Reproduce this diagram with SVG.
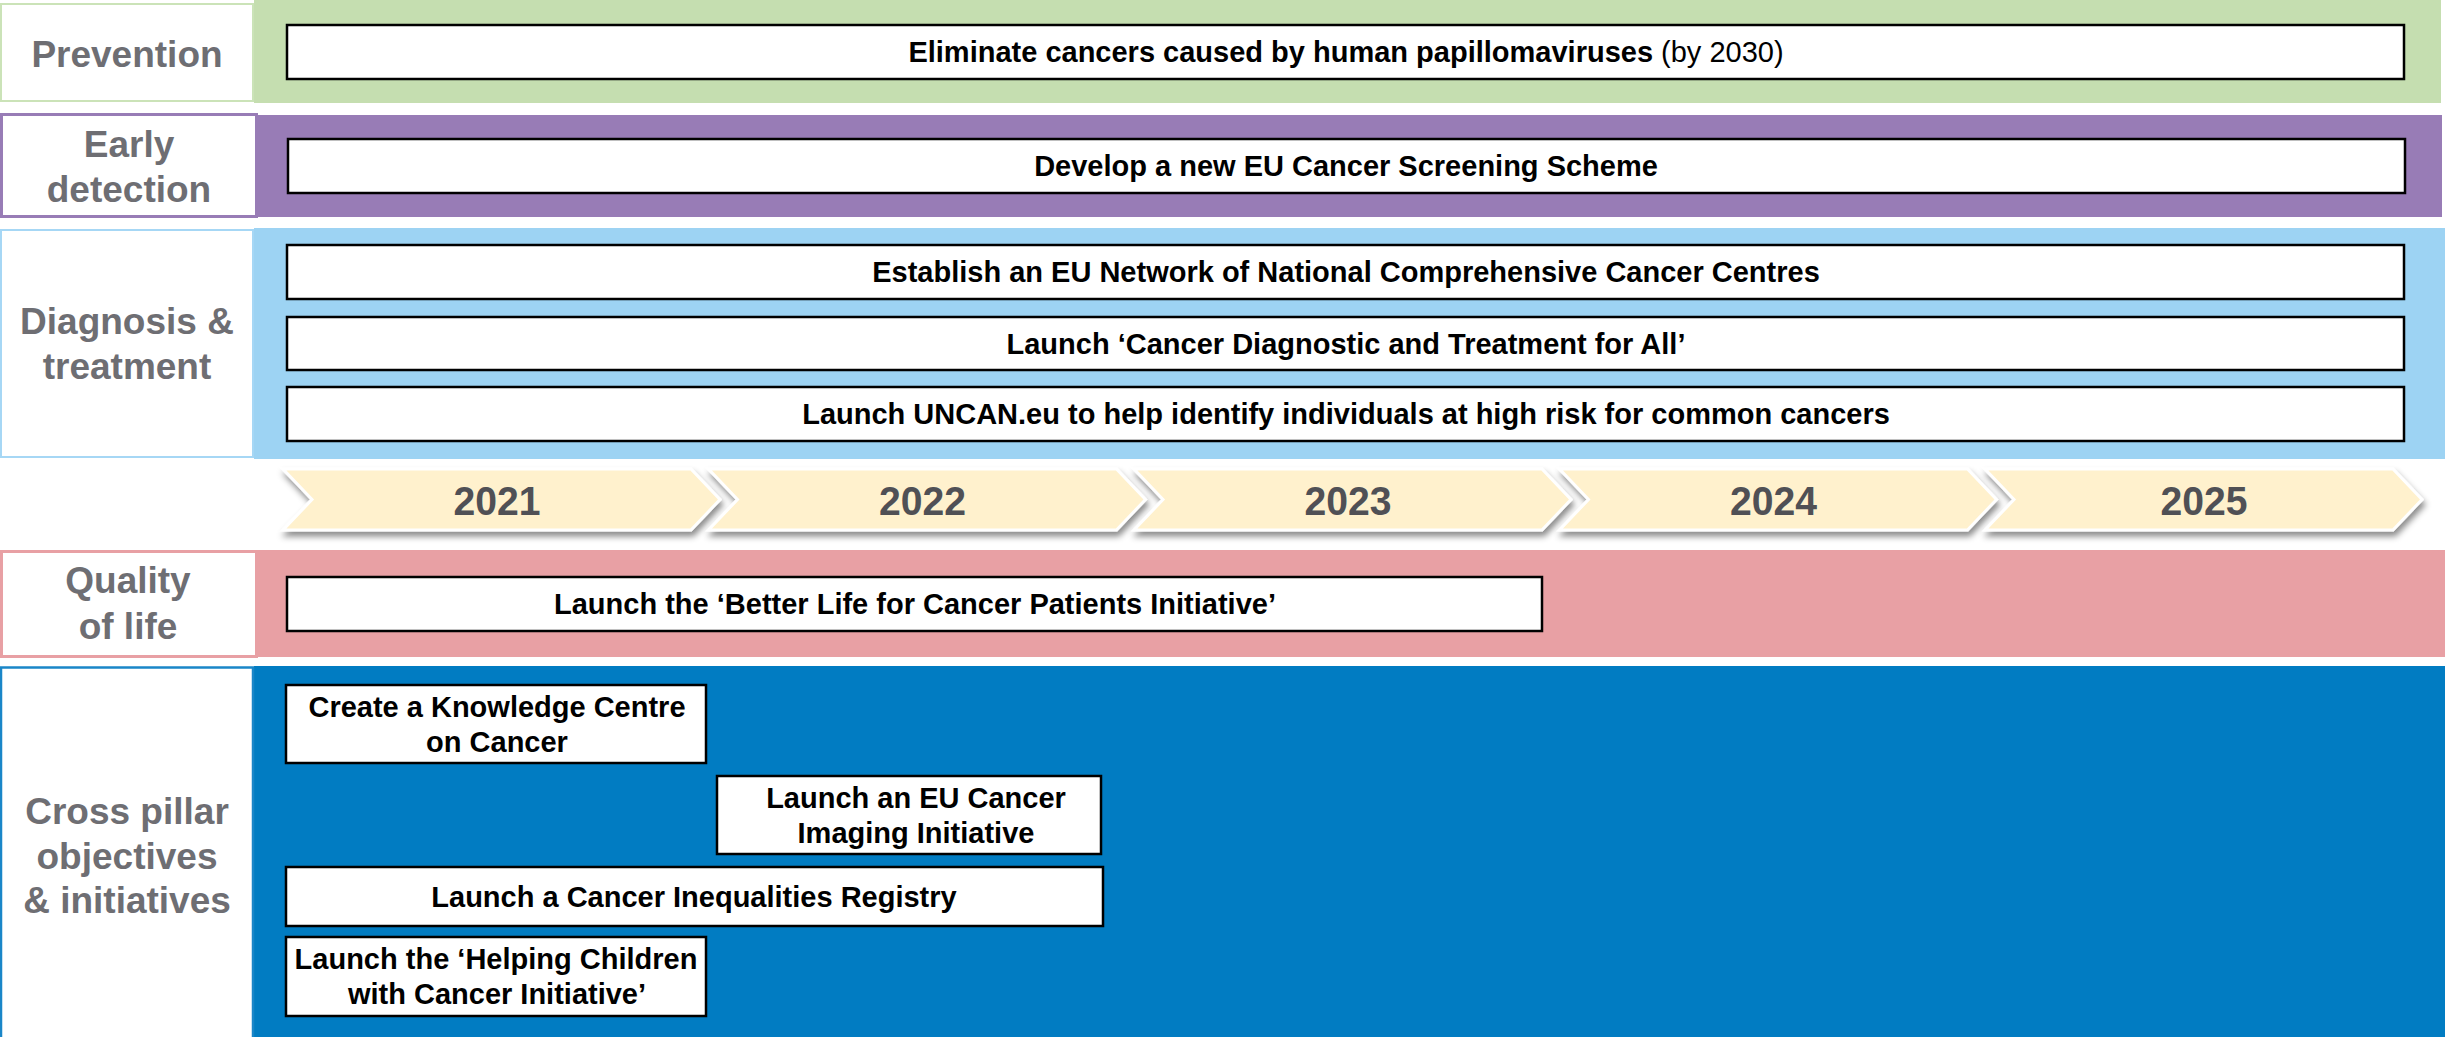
<svg xmlns="http://www.w3.org/2000/svg" width="2445" height="1037" viewBox="0 0 2445 1037">
<defs>
<style>
.lbl{font-family:"Liberation Sans",Arial,sans-serif;font-weight:bold;font-size:37px;fill:#6e6e73;text-anchor:middle}
.box{fill:#fff;stroke:#000;stroke-width:2.5}
.bt{font-family:"Liberation Sans",Arial,sans-serif;font-weight:bold;font-size:29px;fill:#000;text-anchor:middle}
.reg{font-weight:normal}
.chev{fill:#fff1cd;stroke:#fff;stroke-width:3;filter:url(#sh)}
.yr{font-family:"Liberation Sans",Arial,sans-serif;font-weight:bold;font-size:41px;fill:#505055;text-anchor:middle}
</style>
<filter id="sh" x="-5%" y="-30%" width="115%" height="170%">
<feDropShadow dx="2" dy="5" stdDeviation="3" flood-color="#000" flood-opacity="0.45"/>
</filter>
</defs>
<rect width="2445" height="1037" fill="#fff"/>

<!-- Bands -->
<g id="bands">
<rect x="254" y="0" width="2187" height="103" fill="#c5deb0"/>
<rect x="256" y="115" width="2186" height="102" fill="#987cb6"/>
<rect x="254" y="228" width="2191" height="231" fill="#9dd3f3"/>
<rect x="256" y="550" width="2189" height="107" fill="#e8a0a4"/>
<rect x="254" y="666" width="2191" height="371" fill="#017cc2"/>
</g>

<!-- Row labels -->
<g id="label-prevention">
<rect x="1" y="4" width="252" height="97" fill="#fff" stroke="#cbe3b8" stroke-width="2"/>
<text class="lbl" x="127" y="67">Prevention</text>
</g>
<g id="label-early-detection">
<rect x="1.5" y="114.5" width="255" height="102" fill="#fff" stroke="#987cb6" stroke-width="3"/>
<text class="lbl" x="129" y="157">Early</text>
<text class="lbl" x="129" y="202">detection</text>
</g>
<g id="label-diagnosis">
<rect x="1" y="230" width="252" height="227" fill="#fff" stroke="#a6d7f5" stroke-width="2"/>
<text class="lbl" x="127" y="334">Diagnosis &amp;</text>
<text class="lbl" x="127" y="379">treatment</text>
</g>
<g id="label-quality">
<rect x="1.5" y="551.5" width="255" height="105" fill="#fff" stroke="#e8a0a4" stroke-width="3"/>
<text class="lbl" x="128" y="593">Quality</text>
<text class="lbl" x="128" y="639">of life</text>
</g>
<g id="label-cross">
<rect x="1" y="667.5" width="252" height="380" fill="#fff" stroke="#1a86c8" stroke-width="2.5"/>
<text class="lbl" x="127" y="824">Cross pillar</text>
<text class="lbl" x="127" y="869">objectives</text>
<text class="lbl" x="127" y="913">&amp; initiatives</text>
</g>

<!-- Timeline -->
<g id="year-2021">
<path class="chev" d="M283,469 H691 L720,499.5 L691,530 H283 L312,499.5 Z"/>
<text class="yr" x="497" y="515" textLength="87" lengthAdjust="spacingAndGlyphs">2021</text>
</g>
<g id="year-2022">
<path class="chev" d="M708.5,469 H1116.5 L1145.5,499.5 L1116.5,530 H708.5 L737.5,499.5 Z"/>
<text class="yr" x="922.5" y="515" textLength="87" lengthAdjust="spacingAndGlyphs">2022</text>
</g>
<g id="year-2023">
<path class="chev" d="M1134,469 H1542 L1571,499.5 L1542,530 H1134 L1163,499.5 Z"/>
<text class="yr" x="1348" y="515" textLength="87" lengthAdjust="spacingAndGlyphs">2023</text>
</g>
<g id="year-2024">
<path class="chev" d="M1559.5,469 H1967.5 L1996.5,499.5 L1967.5,530 H1559.5 L1588.5,499.5 Z"/>
<text class="yr" x="1773.5" y="515" textLength="87" lengthAdjust="spacingAndGlyphs">2024</text>
</g>
<g id="year-2025">
<path class="chev" d="M1985,469 H2393 L2422,499.5 L2393,530 H1985 L2014,499.5 Z"/>
<text class="yr" x="2204" y="515" textLength="87" lengthAdjust="spacingAndGlyphs">2025</text>
</g>

<!-- Initiative boxes -->
<g id="hpv">
<rect class="box" x="287" y="25" width="2117" height="54"/>
<text class="bt" x="1346" y="62">Eliminate cancers caused by human papillomaviruses<tspan class="reg"> (by 2030)</tspan></text>
</g>
<g id="screening">
<rect class="box" x="288" y="139" width="2117" height="54"/>
<text class="bt" x="1346" y="176">Develop a new EU Cancer Screening Scheme</text>
</g>
<g id="network">
<rect class="box" x="287" y="245" width="2117" height="54"/>
<text class="bt" x="1346" y="282">Establish an EU Network of National Comprehensive Cancer Centres</text>
</g>
<g id="diagnostic-for-all">
<rect class="box" x="287" y="317" width="2117" height="53"/>
<text class="bt" x="1346" y="354">Launch ‘Cancer Diagnostic and Treatment for All’</text>
</g>
<g id="uncan">
<rect class="box" x="287" y="387" width="2117" height="54"/>
<text class="bt" x="1346" y="424">Launch UNCAN.eu to help identify individuals at high risk for common cancers</text>
</g>
<g id="better-life">
<rect class="box" x="287" y="577" width="1255" height="54"/>
<text class="bt" x="915" y="614">Launch the ‘Better Life for Cancer Patients Initiative’</text>
</g>
<g id="knowledge-centre">
<rect class="box" x="286" y="685" width="420" height="78"/>
<text class="bt" x="497" y="717">Create a Knowledge Centre</text>
<text class="bt" x="497" y="752">on Cancer</text>
</g>
<g id="imaging">
<rect class="box" x="717" y="776" width="384" height="78"/>
<text class="bt" x="916" y="808">Launch an EU Cancer</text>
<text class="bt" x="916" y="843">Imaging Initiative</text>
</g>
<g id="inequalities-registry">
<rect class="box" x="286" y="867" width="817" height="59"/>
<text class="bt" x="694" y="907">Launch a Cancer Inequalities Registry</text>
</g>
<g id="helping-children">
<rect class="box" x="286" y="937" width="420" height="79"/>
<text class="bt" x="496" y="969">Launch the ‘Helping Children</text>
<text class="bt" x="497" y="1004">with Cancer Initiative’</text>
</g>

<g id="connectors"></g>
</svg>
